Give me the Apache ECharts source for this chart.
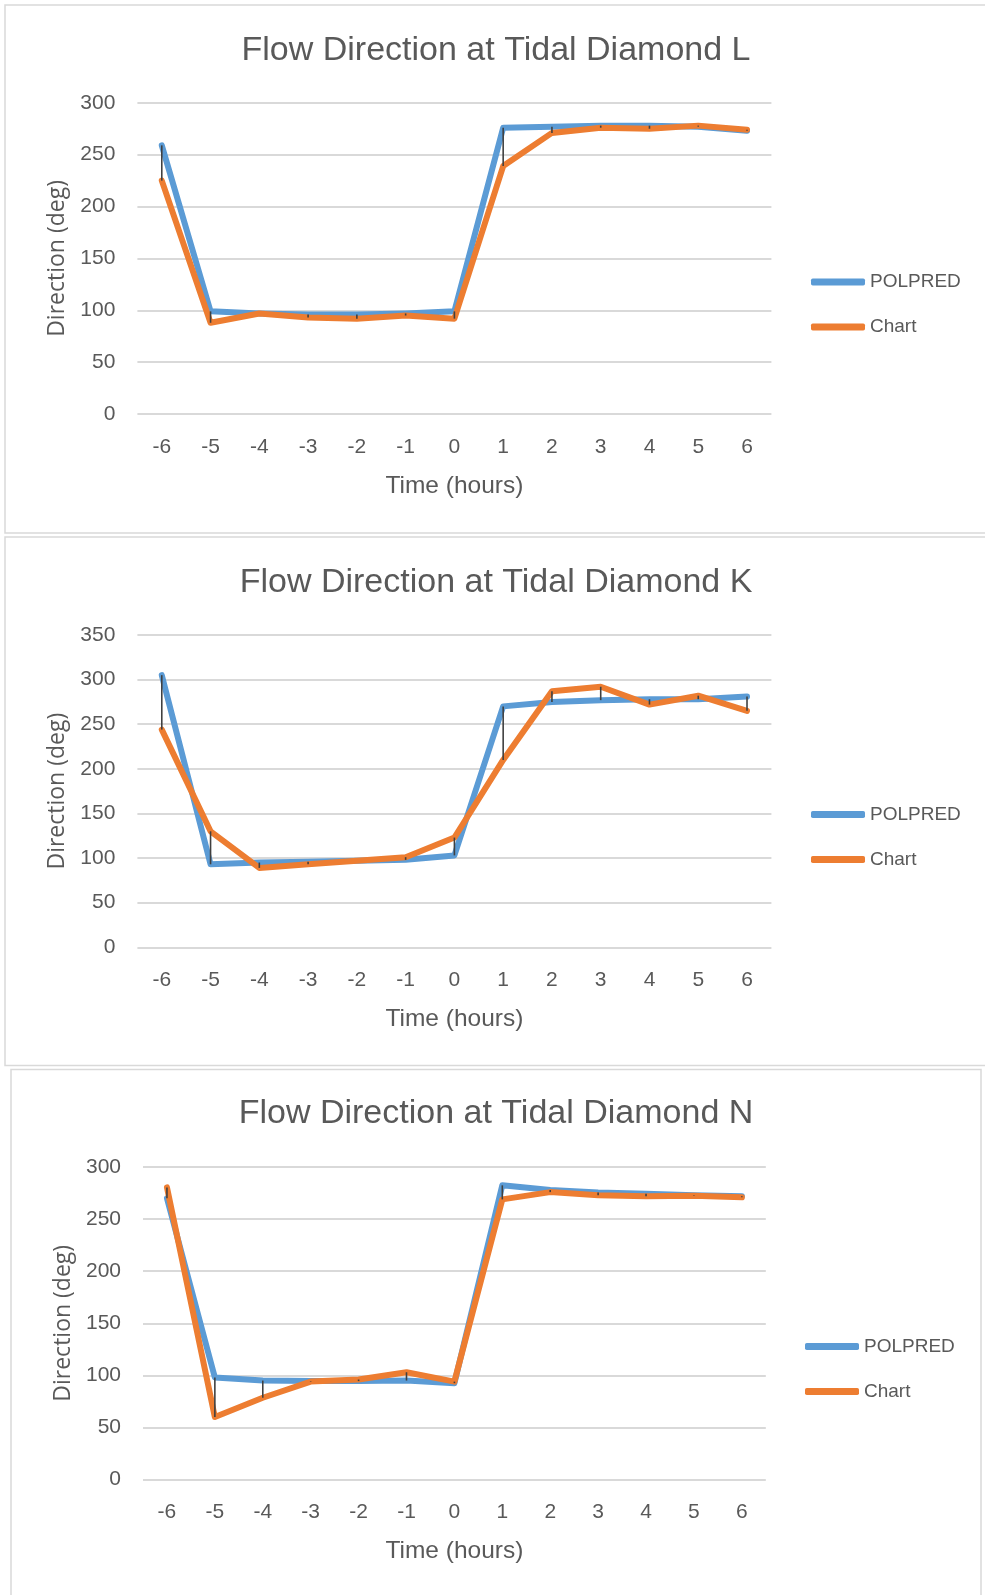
<!DOCTYPE html>
<html>
<head>
<meta charset="utf-8">
<script src="https://cdn.jsdelivr.net/npm/echarts@6/dist/echarts.min.js"></script>
<style>
html,body{margin:0;padding:0;background:#fff;}
#c{width:985px;height:1595px;}
</style>
</head>
<body>
<div id="c"></div>
<script>
const hours = ['-6','-5','-4','-3','-2','-1','0','1','2','3','4','5','6'];

const titleL = 'Flow Direction at Tidal Diamond L';
const polpredL = [259, 99, 97, 96, 96, 97, 99, 276, 277, 278, 278, 277, 273];
const chartL   = [225, 88, 97, 93, 92, 95, 92, 239, 271, 276, 275, 278, 274];

const titleK = 'Flow Direction at Tidal Diamond K';
const polpredK = [305, 93, 95, 96, 97, 98, 103, 270, 275, 277, 278, 278, 281];
const chartK   = [244, 130, 89, 93, 97, 101, 123, 210, 287, 292, 272, 282, 265];

const titleN = 'Flow Direction at Tidal Diamond N';
const polpredN = [270, 98, 95, 94.5, 94.5, 95, 92.5, 282.5, 278, 275.5, 274.5, 273, 272];
const chartN   = [280.5, 60, 78.5, 94, 96, 103, 94, 269, 276, 273, 272, 272.5, 271];

const yMaxes = [300, 350, 300];
const yTicksInterval = 50;

const FONT = "'Liberation Sans', sans-serif";
const GREY = '#595959';

const panels = [
  {title: titleL, p: polpredL, c: chartL, max: yMaxes[0], grid: {left: 137.4, width: 634, top: 102.8, height: 311.3}, titleTop: 29, legendTop: 272.5, legendLeft: 811},
  {title: titleK, p: polpredK, c: chartK, max: yMaxes[1], grid: {left: 137.4, width: 634, top: 635, height: 312.3}, titleTop: 561, legendTop: 805, legendLeft: 811},
  {title: titleN, p: polpredN, c: chartN, max: yMaxes[2], grid: {left: 143, width: 622.8, top: 1167.1, height: 312.4}, titleTop: 1092, legendTop: 1337, legendLeft: 805}
];

const option = {
  animation: false,
  backgroundColor: '#fff',
  title: [], grid: [], xAxis: [], yAxis: [], legend: [], series: [],
  graphic: [
    {type: 'rect', shape: {x: 5, y: 5, width: 1000, height: 528}, style: {fill: 'none', stroke: '#d9d9d9', lineWidth: 1.5}, silent: true},
    {type: 'rect', shape: {x: 5, y: 537, width: 1000, height: 528.5}, style: {fill: 'none', stroke: '#d9d9d9', lineWidth: 1.5}, silent: true},
    {type: 'rect', shape: {x: 11, y: 1069.5, width: 970, height: 560}, style: {fill: 'none', stroke: '#d9d9d9', lineWidth: 1.5}, silent: true}
  ]
};

panels.forEach((pn, i) => {
  option.title.push({
    text: pn.title, left: 491, top: pn.titleTop, textAlign: 'center',
    textStyle: {fontFamily: FONT, fontSize: 34, fontWeight: 'normal', color: GREY}
  });
  option.grid.push(Object.assign({containLabel: false}, pn.grid));
  option.xAxis.push({
    type: 'category', gridIndex: i, data: hours, boundaryGap: true,
    name: 'Time (hours)', nameLocation: 'middle', nameGap: 59.5,
    nameTextStyle: {fontFamily: FONT, fontSize: 24.5, color: GREY},
    axisLine: {show: false}, axisTick: {show: false},
    axisLabel: {fontFamily: FONT, fontSize: 21, color: GREY, margin: 22.5}
  });
  option.yAxis.push({
    type: 'value', gridIndex: i, min: 0, max: pn.max, interval: yTicksInterval,
    name: 'Direction (deg)', nameLocation: 'middle', nameGap: 68.5,
    nameTextStyle: {fontFamily: "'Open Sans', sans-serif", fontSize: 23, color: GREY},
    axisLine: {show: false}, axisTick: {show: false},
    axisLabel: {fontFamily: FONT, fontSize: 21, color: GREY, margin: 22},
    splitLine: {lineStyle: {color: '#d9d9d9', width: 2}}
  });
  option.legend.push({
    orient: 'vertical', left: pn.legendLeft, top: pn.legendTop, padding: 0,
    data: ['POLPRED', 'Chart'], icon: 'roundRect', itemWidth: 54, itemHeight: 7, itemGap: 26,
    textStyle: {fontFamily: FONT, fontSize: 19, color: GREY}
  });
  option.series.push({
    name: 'POLPRED', type: 'line', xAxisIndex: i, yAxisIndex: i, data: pn.p,
    symbol: 'none', z: 2, color: '#5B9BD5',
    lineStyle: {width: 6, color: '#5B9BD5', cap: 'round', join: 'round'}
  });
  option.series.push({
    name: 'Chart', type: 'line', xAxisIndex: i, yAxisIndex: i, data: pn.c,
    symbol: 'none', z: 3, color: '#ED7D31',
    lineStyle: {width: 6, color: '#ED7D31', cap: 'round', join: 'round'}
  });
  option.series.push({
    name: 'hilo', type: 'custom', xAxisIndex: i, yAxisIndex: i, z: 4,
    data: hours.map((h, k) => [k, pn.p[k], pn.c[k]]),
    encode: {x: 0, y: [1, 2]},
    renderItem: function (params, api) {
      const a = api.coord([api.value(0), api.value(1)]);
      const b = api.coord([api.value(0), api.value(2)]);
      return {type: 'line', shape: {x1: a[0], y1: a[1], x2: b[0], y2: b[1]},
              style: {stroke: '#404040', lineWidth: 1.6}};
    }
  });
});

const chart = echarts.init(document.getElementById('c'), null, {renderer: 'canvas'});
chart.setOption(option);
</script>
</body>
</html>
